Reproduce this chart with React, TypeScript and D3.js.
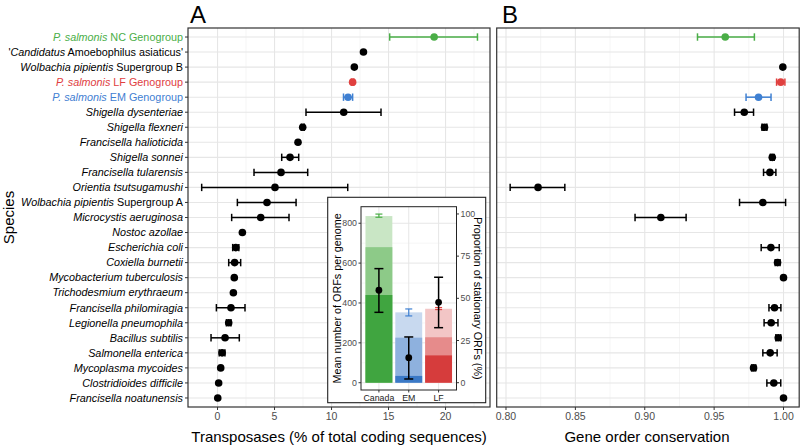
import React from "react";
import { scaleLinear, scalePoint, range } from "d3";

// species labels, *...* marks the italic part
const speciesLabels = [
  "*P. salmonis* NC Genogroup",
  "'*Candidatus* Amoebophilus asiaticus'",
  "*Wolbachia pipientis* Supergroup B",
  "*P. salmonis* LF Genogroup",
  "*P. salmonis* EM Genogroup",
  "*Shigella dysenteriae*",
  "*Shigella flexneri*",
  "*Francisella halioticida*",
  "*Shigella sonnei*",
  "*Francisella tularensis*",
  "*Orientia tsutsugamushi*",
  "*Wolbachia pipientis* Supergroup A",
  "*Microcystis aeruginosa*",
  "*Nostoc azollae*",
  "*Escherichia coli*",
  "*Coxiella burnetii*",
  "*Mycobacterium tuberculosis*",
  "*Trichodesmium erythraeum*",
  "*Francisella philomiragia*",
  "*Legionella pneumophila*",
  "*Bacillus subtilis*",
  "*Salmonella enterica*",
  "*Mycoplasma mycoides*",
  "*Clostridioides difficile*",
  "*Francisella noatunensis*",
];
const speciesGroup = ["NC", "", "", "LF", "EM", "", "", "", "", "", "", "", "", "", "", "", "", "", "", "", "", "", "", "", ""];

// panel A: transposases (% of total coding sequences)
const transMean = [19.0, 12.8, 12.0, 11.85, 11.45, 11.07, 7.47, 7.06, 6.36, 5.57, 5.04, 4.34, 3.79, 2.18, 1.6, 1.5, 1.47, 1.39, 1.18, 0.98, 0.66, 0.4, 0.28, 0.1, 0.02];
const transLo = [15.1, null, null, 11.75, 11.05, 7.76, 7.35, null, 5.63, 3.2, -1.39, 1.74, 1.24, null, 1.33, 0.98, null, null, -0.1, 0.78, -0.57, 0.15, null, null, null];
const transHi = [22.8, null, null, 11.95, 11.85, 14.34, 7.6, null, 7.12, 7.91, 11.42, 6.89, 6.27, null, 1.87, 2.03, null, null, 2.41, 1.18, 1.91, 0.65, null, null, null];

// panel B: gene order conservation
const gocMean = [0.958, null, 0.9995, 0.998, 0.982, 0.9717, 0.9863, null, 0.9919, 0.9902, 0.8231, 0.9851, 0.9116, null, 0.9909, 0.9957, 1.0, null, 0.9935, 0.9911, 0.9962, 0.9904, 0.9784, 0.993, 1.0];
const gocLo = [0.938, null, null, 0.995, 0.973, 0.9647, 0.9845, null, 0.9905, 0.9856, 0.803, 0.9683, 0.893, null, 0.9839, 0.994, null, null, 0.9895, 0.986, 0.9945, 0.9851, 0.977, 0.988, null];
const gocHi = [0.979, null, null, 1.001, 0.991, 0.9784, 0.988, null, 0.9933, 0.9945, 0.8424, 1.0015, 0.9298, null, 0.9969, 0.9975, null, null, 0.9981, 0.996, 0.998, 0.9954, 0.98, 0.998, null];

// inset
const insetGroups = ["Canada", "EM", "LF"];
const orfTotal = [836, 353, 371];
const orfTotalLo = [830, 335, 367];
const orfTotalHi = [846, 370, 377];
const orfMid = [680, 226, 228];
const orfCore = [440, 34, 137];
const statMean = [54.8, 14.8, 47.6];
const statLo = [41.7, 2.2, 32.6];
const statHi = [67.6, 27.1, 62.5];

const transTicks = [0, 5, 10, 15, 20];
const gocTicks = [0.8, 0.85, 0.9, 0.95, 1.0];
const orfTicks = [0, 200, 400, 600, 800];
const statTicks = [0, 25, 50, 75, 100];

const groupColor: Record<string, string> = { NC: "#4aae47", LF: "#e0403f", EM: "#3f80d2", "": "#000" };
const insetShades: Record<string, string[]> = {
  Canada: ["#c9e6c5", "#8dca88", "#40a540"],
  EM: ["#c8d9ef", "#8eb1de", "#3b79c6"],
  LF: ["#f3c6c6", "#e68b8b", "#d63c3c"],
};
const insetColor: Record<string, string> = { Canada: "#4aae47", EM: "#3f80d2", LF: "#e0403f" };

const FONT = "'Liberation Sans', Arial, sans-serif";
const GRID = "#e6e6e6";
const GRID_MINOR = "#f2f2f2";

function Label({ text, x, y, color }: { text: string; x: number; y: number; color: string }) {
  const parts = text.split("*");
  return (
    <text x={x} y={y} textAnchor="end" dy="0.35em" fontSize={10.8} fill={color} fontFamily={FONT}>
      {parts.map((p, i) => p === "" ? null : (
        <tspan key={i} fontStyle={i % 2 === 1 ? "italic" : "normal"}>{p}</tspan>
      ))}
    </text>
  );
}

function DotPanel({ x, ticks, minor, mean, lo, hi, fmt, top, bottom, y }: any) {
  const [x0, x1] = x.range();
  return (
    <g>
      {minor.map((t: number) => (
        <line key={"m" + t} x1={x(t)} x2={x(t)} y1={top} y2={bottom} stroke={GRID_MINOR} strokeWidth={0.8} />
      ))}
      {ticks.map((t: number) => (
        <line key={"g" + t} x1={x(t)} x2={x(t)} y1={top} y2={bottom} stroke={GRID} strokeWidth={1.1} />
      ))}
      {speciesLabels.map((s, i) => (
        <line key={"h" + i} x1={x0} x2={x1} y1={y(s)} y2={y(s)} stroke={GRID} strokeWidth={1.1} />
      ))}
      {speciesLabels.map((s, i) => {
        const c = groupColor[speciesGroup[i]];
        const cy = y(s);
        return (
          <g key={"d" + i}>
            {lo[i] != null && hi[i] != null && (
              <g stroke={c} strokeWidth={1.5}>
                <line x1={x(lo[i])} x2={x(hi[i])} y1={cy} y2={cy} />
                <line x1={x(lo[i])} x2={x(lo[i])} y1={cy - 3.7} y2={cy + 3.7} />
                <line x1={x(hi[i])} x2={x(hi[i])} y1={cy - 3.7} y2={cy + 3.7} />
              </g>
            )}
            {mean[i] != null && <circle cx={x(mean[i])} cy={cy} r={3.8} fill={c} />}
          </g>
        );
      })}
      <rect x={x0} y={top} width={x1 - x0} height={bottom - top} fill="none" stroke="#333" strokeWidth={1.2} />
      {ticks.map((t: number) => (
        <g key={"t" + t}>
          <line x1={x(t)} x2={x(t)} y1={bottom} y2={bottom + 3} stroke="#333" strokeWidth={1} />
          <text x={x(t)} y={bottom + 13} textAnchor="middle" fontSize={10.5} fill="#4d4d4d" fontFamily={FONT}>{fmt(t)}</text>
        </g>
      ))}
    </g>
  );
}

function Inset() {
  const left = 361, right = 456.5, top = 206.7, bottom = 390;
  const x = scalePoint<string>().domain(insetGroups).range([left, right]).padding(0.6);
  const bw = x.step() * 0.9;
  const yL = scaleLinear().domain([-36.6, 883]).range([bottom, top]);
  const yR = scaleLinear().domain([-4.33, 104.3]).range([bottom, top]);
  return (
    <g fontFamily={FONT}>
      <rect x={327.7} y={197.3} width={158} height={205.4} fill="#fff" stroke="#222" strokeWidth={1.1} />
      <rect x={left} y={top} width={right - left} height={bottom - top} fill="#fff" />
      {range(100, 900, 200).map((t) => (
        <line key={"mi" + t} x1={left} x2={right} y1={yL(t)} y2={yL(t)} stroke={GRID_MINOR} strokeWidth={0.7} />
      ))}
      {orfTicks.map((t) => (
        <line key={"mj" + t} x1={left} x2={right} y1={yL(t)} y2={yL(t)} stroke={GRID} strokeWidth={1} />
      ))}
      {insetGroups.map((g) => (
        <line key={"v" + g} x1={x(g)!} x2={x(g)!} y1={top} y2={bottom} stroke={GRID} strokeWidth={1} />
      ))}
      {insetGroups.map((g, i) => {
        const cx = x(g)!;
        const sh = insetShades[g];
        const vals = [orfTotal[i], orfMid[i], orfCore[i]];
        return (
          <g key={g}>
            {vals.map((v, k) => (
              <rect key={k} x={cx - bw / 2} y={yL(v)} width={bw} height={yL(0) - yL(v)} fill={sh[k]} />
            ))}
            <g stroke={insetColor[g]} strokeWidth={1.2}>
              <line x1={cx} x2={cx} y1={yL(orfTotalLo[i])} y2={yL(orfTotalHi[i])} />
              <line x1={cx - 3.5} x2={cx + 3.5} y1={yL(orfTotalLo[i])} y2={yL(orfTotalLo[i])} />
              <line x1={cx - 3.5} x2={cx + 3.5} y1={yL(orfTotalHi[i])} y2={yL(orfTotalHi[i])} />
            </g>
            <g stroke="#000" strokeWidth={1.5}>
              <line x1={cx} x2={cx} y1={yR(statLo[i])} y2={yR(statHi[i])} />
              <line x1={cx - 4.5} x2={cx + 4.5} y1={yR(statLo[i])} y2={yR(statLo[i])} />
              <line x1={cx - 4.5} x2={cx + 4.5} y1={yR(statHi[i])} y2={yR(statHi[i])} />
            </g>
            <circle cx={cx} cy={yR(statMean[i])} r={3.4} fill="#000" />
            <line x1={cx} x2={cx} y1={bottom} y2={bottom + 2.5} stroke="#333" />
            <text x={cx} y={bottom + 11} textAnchor="middle" fontSize={8.8} fill="#222">{g}</text>
          </g>
        );
      })}
      <rect x={left} y={top} width={right - left} height={bottom - top} fill="none" stroke="#222" strokeWidth={1} />
      {orfTicks.map((t) => (
        <g key={"l" + t}>
          <line x1={left - 2.5} x2={left} y1={yL(t)} y2={yL(t)} stroke="#333" />
          <text x={left - 4} y={yL(t)} dy="0.35em" textAnchor="end" fontSize={8.8} fill="#4d4d4d">{t}</text>
        </g>
      ))}
      {statTicks.map((t) => (
        <g key={"r" + t}>
          <line x1={right} x2={right + 2.5} y1={yR(t)} y2={yR(t)} stroke="#333" />
          <text x={right + 4} y={yR(t)} dy="0.35em" textAnchor="start" fontSize={8.8} fill="#4d4d4d">{t}</text>
        </g>
      ))}
      <text transform={`translate(337,${(top + bottom) / 2}) rotate(-90)`} textAnchor="middle" dy="0.35em" fontSize={10.8} fill="#000">
        Mean number of ORFs per genome
      </text>
      <text transform={`translate(477.5,${(top + bottom) / 2}) rotate(90)`} textAnchor="middle" dy="0.35em" fontSize={10.8} fill="#000">
        Proportion of stationary ORFs (%)
      </text>
    </g>
  );
}

export default function App() {
  const width = 800, height = 446;
  const top = 28, bottom = 407;
  const y = scalePoint<string>().domain(speciesLabels).range([top, bottom]).padding(0.6);
  const xA = scaleLinear().domain([-2.59, 23.9]).range([188, 490]);
  const xB = scaleLinear().domain([0.7933, 1.0113]).range([496.7, 799.2]);

  return (
    <svg width={width} height={height} style={{ position: "absolute", left: 0, top: 0, background: "#fff" }} fontFamily={FONT}>
      <DotPanel x={xA} ticks={transTicks} minor={[2.5, 7.5, 12.5, 17.5, 22.5]} mean={transMean} lo={transLo} hi={transHi}
        fmt={(t: number) => String(t)} top={top} bottom={bottom} y={y} />
      <DotPanel x={xB} ticks={gocTicks} minor={[0.825, 0.875, 0.925, 0.975]} mean={gocMean} lo={gocLo} hi={gocHi}
        fmt={(t: number) => t.toFixed(2)} top={top} bottom={bottom} y={y} />
      {speciesLabels.map((s, i) => (
        <g key={s}>
          <line x1={185} x2={188} y1={y(s)} y2={y(s)} stroke="#333" />
          <Label text={s} x={183} y={y(s)!} color={groupColor[speciesGroup[i]]} />
        </g>
      ))}
      <Inset />
      <text x={190} y={23} fontSize={24} fill="#000">A</text>
      <text x={502} y={23} fontSize={24} fill="#000">B</text>
      <text x={339} y={442} textAnchor="middle" fontSize={15} fill="#000">Transposases (% of total coding sequences)</text>
      <text x={647} y={442} textAnchor="middle" fontSize={15} fill="#000">Gene order conservation</text>
      <text transform={`translate(14,${(top + bottom) / 2}) rotate(-90)`} textAnchor="middle" fontSize={15} fill="#000">Species</text>
    </svg>
  );
}
